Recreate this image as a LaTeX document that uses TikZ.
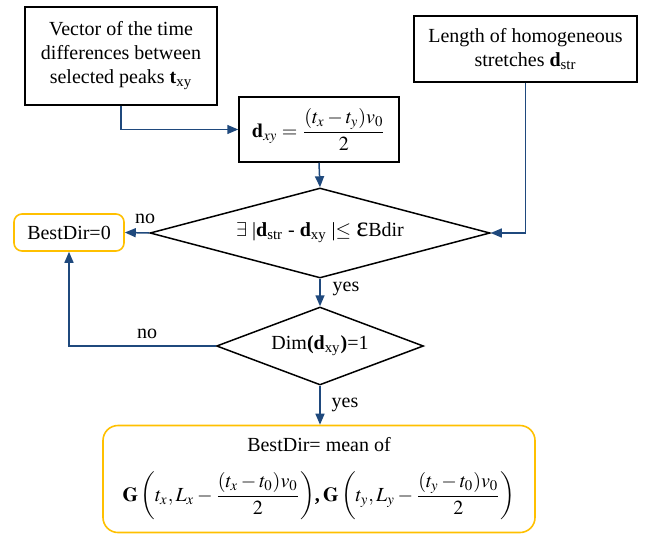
\documentclass[tikz,border=0pt]{standalone}
\usepackage{amsmath}
\usepackage{mathptmx}
\usepackage{fontspec}
\setmainfont{Liberation Serif}
\usetikzlibrary{arrows.meta,shapes.geometric,positioning}
\definecolor{flow}{RGB}{31,73,125}
\definecolor{term}{RGB}{255,192,0}
\tikzset{
  fbox/.style={draw=black,line width=0.75pt,align=center,inner sep=2pt},
  fdec/.style={diamond,draw=black,line width=0.75pt,inner sep=0pt,align=center},
  fterm/.style={draw=term,line width=0.8pt,align=center,inner sep=2pt},
  fflow/.style={flow,line width=0.75pt,-{Triangle[length=5.5pt,width=4.5pt]}},
}

\begin{document}
\begin{tikzpicture}[x=0.5pt,y=-0.5pt]
  \useasboundingbox (0,0) rectangle (647,535);
  \node[fbox,minimum width=96pt,minimum height=49pt] (vec) at (121,56)
    {Vector of the time\\differences between\\selected peaks \textbf{t}\textsubscript{xy}};
  \node[fbox,minimum width=111.5pt,minimum height=33pt] (len) at (525.5,49)
    {Length of homogeneous\\stretches \textbf{d}\textsubscript{str}};
  \node[fbox,minimum width=80pt,minimum height=32.5pt] (dxy) at (319,129.5)
    {$\mathbf{d}_{xy}=\dfrac{(t_x-t_y)v_0}{2}$};
  \node[fdec,aspect=4,minimum width=170pt,minimum height=45pt] (cond) at (320,233)
    {$\exists$ |\textbf{d}\textsubscript{str} - \textbf{d}\textsubscript{xy} |$\le$ {\Large ε}Bdir};
  \node[fdec,aspect=2.7,minimum width=103.5pt,minimum height=39pt] (dim) at (320,346)
    {Dim\textbf{(d}\textsubscript{xy}\textbf{)}=1};
  \node[fterm,rounded corners=4pt,minimum width=55pt,minimum height=18.5pt] (zero) at (69,232.5)
    {BestDir=0};
  \node[fterm,inner sep=0pt,rounded corners=7.5pt,minimum width=216pt,minimum height=53.5pt] (best) at (319,479)
    {BestDir= mean of\\[9pt]
     $\mathbf{G}\left(t_x,L_x-\dfrac{(t_x-t_0)v_0}{2}\right)$\textbf{,}\,%
     $\mathbf{G}\left(t_y,L_y-\dfrac{(t_y-t_0)v_0}{2}\right)$};

  \draw[fflow] (vec.south) |- (dxy.west);
  \draw[fflow] (dxy.south) -- (cond.north);
  \draw[fflow] (len.south) |- (cond.east);
  \draw[fflow] (cond.west) -- (zero.east);
  \draw[fflow] (cond.south) -- (dim.north);
  \draw[fflow] (dim.west) -| (zero.south);
  \draw[fflow] (dim.south) -- (dim.south |- best.north);

  \node (no1) at (145,219) {no};
  \node (yes1) at (346,289) {yes};
  \node (no2) at (147,334) {no};
  \node (yes2) at (345,405) {yes};
\end{tikzpicture}
\end{document}
